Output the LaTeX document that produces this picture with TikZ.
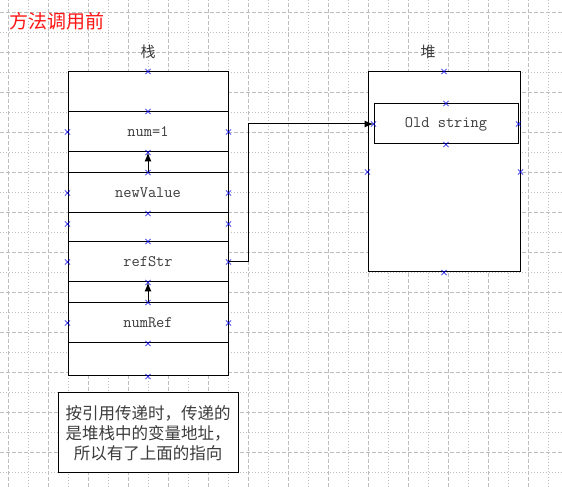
\documentclass[tikz,border=0pt]{standalone}
\usepackage{fontspec}
\newfontfamily\cjkfont{Noto Sans CJK SC}
\usepackage{tikz}
\usetikzlibrary{arrows,arrows.meta,shapes,positioning}
\usepackage{xcolor}
\definecolor{memblue}{RGB}{0,0,230}
\definecolor{memred}{RGB}{255,20,20}
\definecolor{memgrid}{RGB}{190,190,190}
\definecolor{memtext}{RGB}{60,60,60}
\tikzstyle{ptr} = [line width=1pt,-{Latex[length=9pt,width=7pt]}]
\tikzstyle{frame} = [rectangle, draw, line width=1pt, fill=white, inner sep=0pt]
\tikzstyle{cell} = [rectangle, draw, line width=1pt, minimum width=160pt, minimum height=40pt, inner sep=0pt, text=memtext, font=\ttfamily\fontsize{16}{16}\selectfont]
\tikzstyle{anchorx} = [cross out, draw=memblue, line width=0.6pt, minimum size=4.5pt, inner sep=0pt]
\tikzstyle{heading} = [text=memtext, font=\cjkfont\fontsize{15}{15}\selectfont]

\begin{document}
\begin{tikzpicture}[x=1pt,y=1pt]
\useasboundingbox (0,0) rectangle (562,487);
% background grid
\foreach \x in {8,48,...,528} \draw[memgrid, line width=0.8pt, dash pattern=on 4pt off 2pt] (\x,0) -- (\x,487);
\foreach \x in {28,68,...,548} \draw[memgrid, line width=0.8pt, dash pattern=on 1pt off 2pt] (\x,0) -- (\x,487);
\foreach \y in {35,75,...,475} \draw[memgrid, line width=0.8pt, dash pattern=on 4pt off 2pt] (0,\y) -- (562,\y);
\foreach \y in {15,55,...,455} \draw[memgrid, line width=0.8pt, dash pattern=on 1pt off 2pt] (0,\y) -- (562,\y);

\node (title) [text=memred, font=\cjkfont\fontsize{19}{19}\selectfont] at (57,466) {方法调用前};

% stack
\node (stack) [frame, minimum width=160pt, minimum height=304pt] at (148,263) {};
\node (stacklbl) [heading] at (148,435) {栈};
\node (num) [cell, below=40pt of stack.north] {num=1};
\node (newval) [cell, below=20pt of num] {newValue};
\node (refstr) [cell, below=28pt of newval] {refStr};
\node (numref) [cell, below=20pt of refstr] {numRef};

% heap
\node (heap) [frame, minimum width=152pt, minimum height=200pt] at (444,315) {};
\node (heaplbl) [heading] at (428,435) {堆};
\node (oldstr) [cell, minimum width=144pt] at (446,363) {Old string};

% note
\node (note) [frame, minimum width=180pt, minimum height=80pt, below=16pt of stack, align=center, text=memtext, font=\cjkfont\fontsize{16.5}{20}\selectfont] {按引用传递时，传递的\\是堆栈中的变量地址，\\所以有了上面的指向};

% connection points
\foreach \n in {stack,num,newval,refstr,numref,heap,oldstr}
  \foreach \a in {north,south,east,west}
    \node[anchorx] at (\n.\a) {};

% pointers
\draw[ptr] (newval.north) -- (num.south);
\draw[ptr] (numref.north) -- (refstr.south);
\draw[ptr] (refstr.east) -- ++(20,0) |- (oldstr.west);
\end{tikzpicture}
\end{document}
